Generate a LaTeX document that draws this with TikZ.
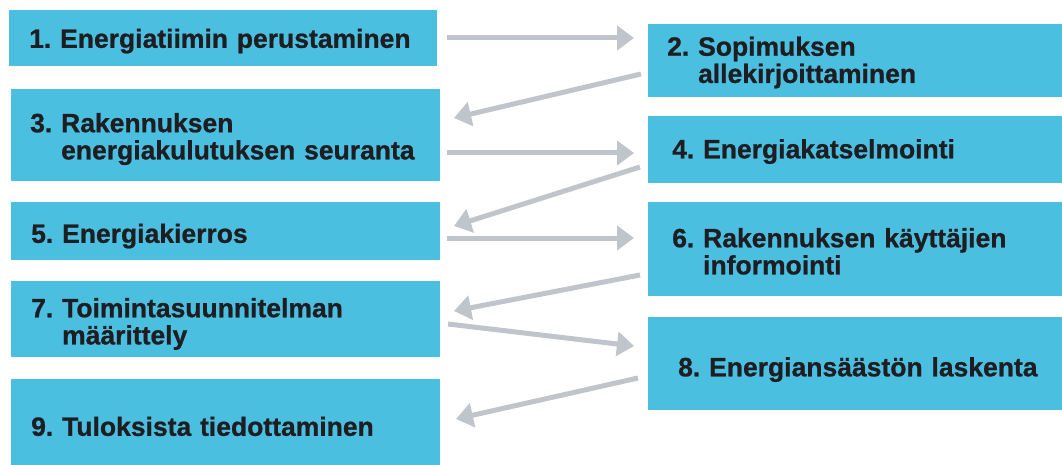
\documentclass[tikz,border=0pt]{standalone}
\usepackage{fontspec}
\setmainfont{Liberation Sans}
\newfontfamily\heavyfont{Liberation Sans}[UprightFont=*, BoldFont=* Bold, BoldFeatures={FakeBold=0.8}]
\usetikzlibrary{arrows.meta}
\definecolor{boxblue}{RGB}{75,191,224}
\definecolor{arrgray}{RGB}{192,196,203}
\definecolor{textdark}{RGB}{30,30,34}
\tikzset{
  box/.style={fill=boxblue, draw=none, anchor=north west, align=left, text=textdark,
    inner xsep=20pt, inner ysep=0pt, font=\heavyfont\fontsize{26.5pt}{26.5pt}\selectfont\bfseries},
  arr/.style={draw=arrgray, line width=5pt, -{Triangle[length=17pt,width=24pt]}}
}
% #1 = downward shift, #2 = number, #3 = lines
\newcommand{\steptext}[3]{\raisebox{-#1}[\height][\depth]{\begin{tabular}{@{}l@{\ }l@{}}#2&#3\end{tabular}}}
\begin{document}
\begin{tikzpicture}[x=1pt,y=-1pt]
\useasboundingbox (0,0) rectangle (1062,465);
\node[box, text width=388pt, minimum height=56pt] (b1) at (9,10)
  {\steptext{4pt}{1.}{Energiatiimin perustaminen}};
\node[box, inner xsep=19pt, text width=376pt, minimum height=73pt] (b2) at (648,24)
  {\steptext{3pt}{2.}{Sopimuksen\\ &allekirjoittaminen}};
\node[box, inner xsep=19pt, text width=391pt, minimum height=92pt] (b3) at (11,89)
  {\steptext{5pt}{3.}{Rakennuksen\\ &energiakulutuksen seuranta}};
\node[box, inner xsep=24pt, text width=366pt, minimum height=67pt] (b4) at (648,116)
  {\steptext{3pt}{4.}{Energiakatselmointi}};
\node[box, text width=389pt, minimum height=58pt] (b5) at (11,202)
  {\steptext{6pt}{5.}{Energiakierros}};
\node[box, inner xsep=24pt, text width=366pt, minimum height=94pt] (b6) at (648,202)
  {\steptext{6pt}{6.}{Rakennuksen käyttäjien\\ &informointi}};
\node[box, text width=389pt, minimum height=76pt] (b7) at (11,281)
  {\steptext{6pt}{7.}{Toimintasuunnitelman\\ &määrittely}};
\node[box, inner xsep=30pt, text width=354pt, minimum height=93pt] (b8) at (648,317)
  {\steptext{7pt}{8.}{Energiansäästön laskenta}};
\node[box, text width=389pt, minimum height=86pt] (b9) at (11,379)
  {\steptext{8pt}{9.}{Tuloksista tiedottaminen}};
% arrow end points
\coordinate (s12) at (447,38);  \coordinate (e12) at (634,38);
\coordinate (s23) at (641,74);  \coordinate (e23) at (454,118);
\coordinate (s34) at (447,153); \coordinate (e34) at (634,153);
\coordinate (s45) at (640,167); \coordinate (e45) at (454,226);
\coordinate (s56) at (447,238); \coordinate (e56) at (634,238);
\coordinate (s67) at (640,275); \coordinate (e67) at (454,311);
\coordinate (s78) at (448,324); \coordinate (e78) at (634,346);
\coordinate (s89) at (638,378); \coordinate (e89) at (456,419);
\draw[arr] (s12) -- (e12);
\draw[arr] (s23) -- (e23);
\draw[arr] (s34) -- (e34);
\draw[arr] (s45) -- (e45);
\draw[arr] (s56) -- (e56);
\draw[arr] (s67) -- (e67);
\draw[arr] (s78) -- (e78);
\draw[arr] (s89) -- (e89);
\end{tikzpicture}
\end{document}
